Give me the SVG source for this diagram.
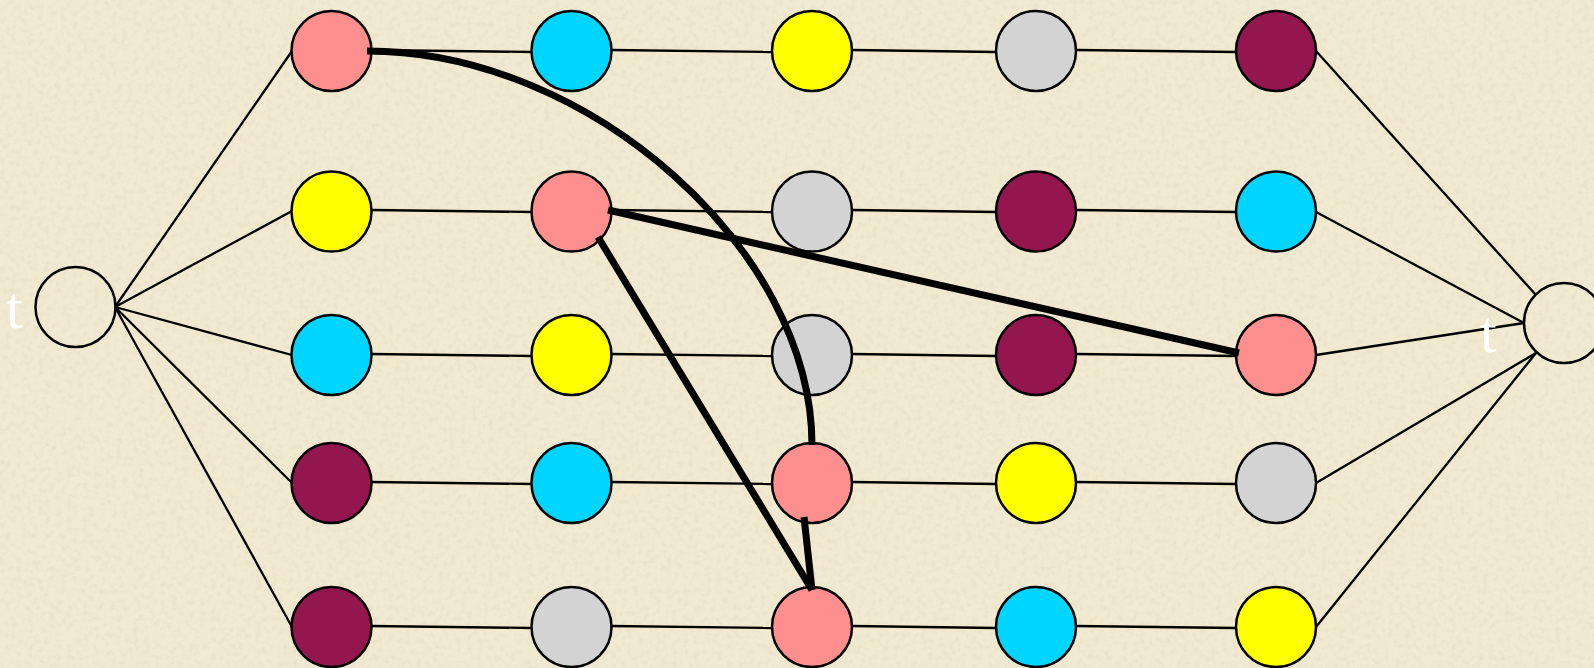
<svg xmlns="http://www.w3.org/2000/svg" width="1594" height="668" viewBox="0 0 1594 668">
<defs>
<filter id="tex" x="0" y="0" width="100%" height="100%">
<feTurbulence type="fractalNoise" baseFrequency="0.18" numOctaves="3" seed="4" result="n"/>
<feColorMatrix in="n" type="matrix" values="0 0 0 0 0.55  0 0 0 0 0.5  0 0 0 0 0.38  0 0 0 1.2 -0.55" result="m"/>
<feComposite in="m" in2="SourceGraphic" operator="in"/>
</filter>
<style>
.bg{fill:#F1E9D0}
.thin{stroke:#000;stroke-width:2.3;fill:none}
.thick{stroke:#000;stroke-width:7;fill:none}
.n{stroke:#000;stroke-width:2.5}
.pk{fill:#FF8F8F}.cy{fill:#00D5FF}.ye{fill:#FFFF00}.gr{fill:#D3D3D3}.mr{fill:#93174E}
.st{fill:none;stroke:#000;stroke-width:2.5}
.lbl{font-family:"Liberation Serif","Times New Roman",serif;font-size:60px;fill:#FFFFFF}
</style>
</defs>
<rect class="bg" x="0" y="0" width="1594" height="668"/>
<rect x="0" y="0" width="1594" height="668" fill="#F1E9D0" filter="url(#tex)" opacity="0.35"/>

<g id="connectors-thin">
<!-- source fan -->
<line class="thin" x1="115" y1="307" x2="292" y2="51"/>
<line class="thin" x1="115" y1="307" x2="292" y2="211"/>
<line class="thin" x1="115" y1="307" x2="292" y2="355"/>
<line class="thin" x1="115" y1="307" x2="292" y2="483"/>
<line class="thin" x1="115" y1="307" x2="292" y2="627"/>
<!-- rows -->
<line class="thin" x1="371" y1="50" x2="532" y2="52"/>
<line class="thin" x1="611" y1="50" x2="772" y2="52"/>
<line class="thin" x1="852" y1="50" x2="996" y2="52"/>
<line class="thin" x1="1076" y1="50" x2="1236" y2="52"/>
<line class="thin" x1="371" y1="210" x2="532" y2="212"/>
<line class="thin" x1="611" y1="210" x2="772" y2="212"/>
<line class="thin" x1="852" y1="210" x2="996" y2="212"/>
<line class="thin" x1="1076" y1="210" x2="1236" y2="212"/>
<line class="thin" x1="371" y1="354" x2="532" y2="356"/>
<line class="thin" x1="611" y1="354" x2="772" y2="356"/>
<line class="thin" x1="852" y1="354" x2="996" y2="356"/>
<line class="thin" x1="1076" y1="354" x2="1236" y2="356"/>
<line class="thin" x1="371" y1="482" x2="532" y2="484"/>
<line class="thin" x1="611" y1="482" x2="772" y2="484"/>
<line class="thin" x1="852" y1="482" x2="996" y2="484"/>
<line class="thin" x1="1076" y1="482" x2="1236" y2="484"/>
<line class="thin" x1="371" y1="626" x2="532" y2="628"/>
<line class="thin" x1="611" y1="626" x2="772" y2="628"/>
<line class="thin" x1="852" y1="626" x2="996" y2="628"/>
<line class="thin" x1="1076" y1="626" x2="1236" y2="628"/>
<!-- sink fan -->
<line class="thin" x1="1316" y1="51" x2="1536" y2="295"/>
<line class="thin" x1="1316" y1="212" x2="1524" y2="323"/>
<line class="thin" x1="1316" y1="355" x2="1524" y2="323"/>
<line class="thin" x1="1316" y1="483" x2="1536" y2="353"/>
<line class="thin" x1="1316" y1="627" x2="1536" y2="353"/>
</g>

<g id="source"><circle class="st" cx="75.5" cy="307" r="40"/><text class="lbl" x="6" y="328">t</text></g>
<g id="sink"><circle class="st" cx="1564" cy="323" r="40"/><text class="lbl" x="1480" y="352">t</text></g>

<g id="r1c1"><circle class="n pk" cx="331.5" cy="51" r="40"/></g>
<g id="r1c2"><circle class="n cy" cx="571.5" cy="51" r="40"/></g>
<g id="r1c3"><circle class="n ye" cx="812" cy="51" r="40"/></g>
<g id="r1c4"><circle class="n gr" cx="1036" cy="51" r="40"/></g>
<g id="r1c5"><circle class="n mr" cx="1276" cy="51" r="40"/></g>

<g id="r2c1"><circle class="n ye" cx="331.5" cy="211.5" r="40"/></g>
<g id="r2c2"><circle class="n pk" cx="571.5" cy="211.5" r="40"/></g>
<g id="r2c3"><circle class="n gr" cx="812" cy="211.5" r="40"/></g>
<g id="r2c4"><circle class="n mr" cx="1036" cy="211.5" r="40"/></g>
<g id="r2c5"><circle class="n cy" cx="1276" cy="211.5" r="40"/></g>

<g id="r3c1"><circle class="n cy" cx="331.5" cy="355" r="40"/></g>
<g id="r3c2"><circle class="n ye" cx="571.5" cy="355" r="40"/></g>
<g id="r3c3"><circle class="n gr" cx="812" cy="355" r="40"/></g>
<g id="r3c4"><circle class="n mr" cx="1036" cy="355" r="40"/></g>
<g id="r3c5"><circle class="n pk" cx="1276" cy="355" r="40"/></g>

<g id="r4c1"><circle class="n mr" cx="331.5" cy="483" r="40"/></g>
<g id="r4c2"><circle class="n cy" cx="571.5" cy="483" r="40"/></g>
<g id="r4c3"><circle class="n pk" cx="812" cy="483" r="40"/></g>
<g id="r4c4"><circle class="n ye" cx="1036" cy="483" r="40"/></g>
<g id="r4c5"><circle class="n gr" cx="1276" cy="483" r="40"/></g>

<g id="r5c1"><circle class="n mr" cx="331.5" cy="627" r="40"/></g>
<g id="r5c2"><circle class="n gr" cx="571.5" cy="627" r="40"/></g>
<g id="r5c3"><circle class="n pk" cx="812" cy="627" r="40"/></g>
<g id="r5c4"><circle class="n cy" cx="1036" cy="627" r="40"/></g>
<g id="r5c5"><circle class="n ye" cx="1276" cy="627" r="40"/></g>

<g id="connectors-thick">
<path class="thick" d="M367,51 C590,51 812,250 812,445"/>
<line class="thick" x1="608" y1="210" x2="1239" y2="353"/>
<line class="thick" x1="598" y1="237" x2="812" y2="590"/>
<line class="thick" x1="804" y1="517" x2="812" y2="590"/>
</g>
</svg>
